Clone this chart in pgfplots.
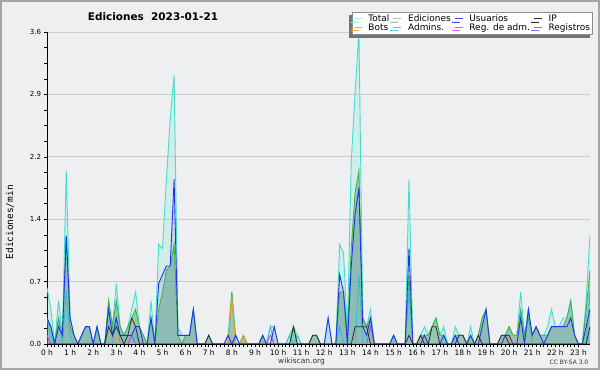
\documentclass[border=0pt]{standalone}
\usepackage{fontspec}
\setmainfont{DejaVu Sans}
\newfontfamily\monofont{DejaVu Sans Mono}
\usepackage{pgfplots}
\usepackage{pgfplotstable}
\pgfplotsset{compat=1.18}
\usetikzlibrary{shadows}

\definecolor{bg}{RGB}{238,239,240}
\definecolor{frame}{RGB}{165,165,165}
\definecolor{cTotal}{RGB}{64,224,208}
\definecolor{cEd}{RGB}{60,175,60}
\definecolor{cEdFill}{RGB}{70,150,105}
\definecolor{cUs}{RGB}{35,50,235}
\definecolor{cIP}{RGB}{45,45,45}
\definecolor{cBot}{RGB}{255,150,30}
\definecolor{cAdm}{RGB}{40,190,225}
\definecolor{cReg}{RGB}{200,60,220}
\definecolor{cLog}{RGB}{120,120,235}

\pgfplotstableread{
i T E U IP B A R
0 0.65 0.3 0.3 0 0 0.3 0.1
1 0.4 0.2 0.2 0 0 0.1 0
2 0 0 0 0 0 0 0
3 0.5 0.3 0.2 0 0 0.3 0
4 0.1 0.1 0.1 0 0 0 0
5 2.0 1.25 1.25 0 0 0.6 0
6 0.3 0.2 0.3 0 0 0.1 0
7 0.1 0.1 0.1 0 0 0 0
8 0 0 0 0 0 0 0
9 0.1 0.1 0.1 0 0 0 0
10 0.2 0.2 0.2 0 0 0 0
11 0.2 0.2 0.2 0 0 0 0
12 0 0 0 0 0 0 0
13 0.2 0.2 0.2 0 0 0 0
14 0 0 0 0 0 0 0
15 0 0 0 0 0 0 0
16 0.5 0.5 0.4 0.2 0 0 0
17 0.2 0.2 0.1 0.1 0 0 0
18 0.7 0.5 0.3 0.2 0.1 0.3 0
19 0.2 0.2 0.1 0.1 0 0 0
20 0.1 0.1 0.1 0 0 0 0
21 0.2 0.2 0.1 0.1 0 0 0
22 0.4 0.3 0.1 0.3 0 0 0.1
23 0.6 0.4 0.2 0.2 0 0.1 0
24 0.2 0.2 0.2 0 0 0 0
25 0.1 0.1 0 0 0 0 0
26 0 0 0 0 0 0 0
27 0.5 0.3 0.3 0 0 0 0
28 0 0 0 0 0 0 0
29 1.15 0.4 0.7 0 0 0 0
30 1.1 0.6 0.8 0 0 0 0
31 1.9 0.85 0.9 0 0 0 0
32 2.6 0.9 0.9 0 0 0 0
33 3.1 1.15 1.9 0 0 0 0
34 0.2 0.1 0.1 0 0 0 0
35 0.1 0 0.1 0 0 0 0
36 0.1 0.1 0.1 0 0 0 0
37 0.1 0.1 0.1 0 0 0 0
38 0.4 0.4 0.4 0 0 0 0
39 0 0 0 0 0 0 0
40 0 0 0 0 0 0 0
41 0 0 0 0 0 0 0
42 0.1 0.1 0 0.1 0 0 0
43 0 0 0 0 0 0 0
44 0 0 0 0 0 0 0
45 0 0 0 0 0 0 0
46 0 0 0 0 0 0 0
47 0.1 0 0.1 0 0 0 0
48 0.6 0.6 0 0 0.55 0 0
49 0.1 0 0.1 0 0 0 0
50 0 0 0 0 0 0 0
51 0.1 0.1 0 0 0.1 0 0
52 0 0 0 0 0 0 0
53 0 0 0 0 0 0 0
54 0 0 0 0 0 0 0
55 0 0 0 0 0 0 0
56 0.1 0.1 0.1 0 0 0 0
57 0 0 0 0 0 0 0
58 0.2 0 0 0 0 0.2 0.1
59 0.2 0 0.2 0 0 0 0
60 0 0 0 0 0 0 0
61 0 0 0 0 0 0 0
62 0 0 0 0 0 0 0
63 0.1 0 0 0 0 0.1 0
64 0.2 0.2 0 0.2 0 0 0
65 0.1 0 0 0 0 0.1 0
66 0 0 0 0 0 0 0
67 0 0 0 0 0 0 0
68 0 0 0 0 0 0 0
69 0.1 0.1 0 0.1 0 0 0
70 0.1 0.1 0 0.1 0 0 0
71 0 0 0 0 0 0 0
72 0 0 0 0 0 0 0
73 0.3 0 0.3 0 0 0 0
74 0 0 0 0 0 0 0
75 0 0 0 0 0 0 0
76 1.15 0.6 0.8 0 0 0.2 0
77 1.05 0.6 0.6 0 0 0 0
78 0.15 0.1 0 0 0 0 0
79 2.1 1.1 0.9 0 0 0 0
80 2.9 1.75 1.5 0.2 0 0 0
81 3.6 2.0 1.8 0.2 0 0.8 0
82 0.3 0.3 0.2 0.2 0 0 0
83 0.2 0.2 0.1 0.2 0 0 0
84 0.4 0.3 0.3 0 0 0 0.2
85 0 0 0 0 0 0 0
86 0 0 0 0 0 0 0
87 0 0 0 0 0 0 0
88 0 0 0 0 0 0 0
89 0 0 0 0 0 0 0
90 0.1 0.1 0.1 0 0 0 0
91 0 0 0 0 0 0 0
92 0 0 0 0 0 0 0
93 0 0 0 0 0 0 0
94 1.9 0.8 1.1 0.1 0 0.6 0
95 0 0 0 0 0 0 0
96 0 0 0 0 0 0 0
97 0.1 0.1 0 0.1 0 0 0
98 0.2 0.1 0.1 0 0 0 0
99 0.1 0.1 0 0 0 0 0
100 0.2 0.2 0 0.2 0 0 0
101 0.3 0.3 0 0.2 0 0 0
102 0.1 0.1 0 0 0 0 0
103 0.2 0.1 0.1 0 0 0 0
104 0 0 0 0 0 0 0
105 0 0 0 0 0 0 0
106 0.2 0.1 0.1 0 0 0 0
107 0.1 0.1 0 0.1 0 0 0
108 0.1 0.1 0 0.1 0 0 0
109 0 0 0 0 0 0 0
110 0.2 0.1 0.1 0 0 0 0
111 0 0 0 0 0 0 0
112 0.1 0.1 0 0.1 0 0 0
113 0.3 0.3 0.2 0 0 0 0
114 0.4 0.4 0.4 0 0 0 0
115 0 0 0 0 0 0 0
116 0 0 0 0 0 0 0
117 0 0 0 0 0 0 0
118 0.1 0.1 0 0.1 0 0 0
119 0.1 0.1 0.1 0.1 0 0 0
120 0.2 0.2 0.1 0 0.1 0 0
121 0.1 0.1 0 0 0.1 0 0
122 0.1 0.1 0 0 0 0 0
123 0.6 0.4 0.3 0 0 0 0
124 0.1 0.1 0 0 0 0 0
125 0.4 0.3 0.4 0 0 0.4 0
126 0.1 0.1 0.1 0 0 0 0
127 0.2 0.2 0.2 0 0 0 0
128 0.1 0.1 0.1 0 0 0 0
129 0.1 0.1 0 0 0 0 0
130 0.2 0.1 0.1 0 0 0 0
131 0.4 0.2 0.2 0 0 0 0
132 0.2 0.2 0.2 0 0 0 0
133 0.2 0.2 0.2 0 0 0 0
134 0.3 0.2 0.2 0 0 0 0
135 0.3 0.3 0.2 0 0 0 0
136 0.5 0.5 0.3 0 0 0 0
137 0.1 0.1 0.1 0 0 0 0
138 0 0 0 0 0 0 0
139 0 0 0 0 0 0 0
140 0.5 0.4 0.2 0 0 0 0
141 1.25 0.85 0.4 0.2 0 0.6 0
}\data

\begin{document}
\begin{tikzpicture}
\useasboundingbox (0,0) rectangle (600bp,370bp);
\fill[bg] (0,0) rectangle (600bp,370bp);
\draw[frame, line width=2bp] (1bp,1bp) rectangle (599bp,369bp);
\begin{axis}[
  at={(47bp,26bp)}, anchor=south west,
  scale only axis, width=543bp, height=312bp,
  xmin=0, xmax=141, ymin=0, ymax=3.6,
  axis x line=bottom, axis y line=left,
  axis line style={-, black, line width=0.8bp},
  xtick={0,6,...,138},
  xticklabels={0 h,1 h,2 h,3 h,4 h,5 h,6 h,7 h,8 h,9 h,10 h,11 h,12 h,13 h,14 h,15 h,16 h,17 h,18 h,19 h,20 h,21 h,22 h,23 h},
  minor x tick num=5,
  ytick={0,0.72,1.44,2.16,2.88,3.6},
  yticklabels={0.0,0.7,1.4,2.2,2.9,3.6},
  minor y tick num=3,
  tick align=outside,
  major tick length=3.5bp, minor tick length=3bp,
  tick style={black, line width=0.6bp},
  ymajorgrids, grid style={color=black!20, line width=0.7bp},
  /pgf/number format/assume math mode=true,
  xticklabel style={font=\fontsize{7.5}{8}\selectfont, yshift=1.5bp},
  yticklabel style={font=\fontsize{7}{8}\selectfont, xshift=1bp},
  ylabel={\monofont Ediciones/min},
  ylabel style={at={(axis description cs:-0.068,0.39)}, anchor=center, font=\fontsize{9.5}{10}\selectfont},
  legend columns=4,
  legend cell align=left,
  legend image code/.code={\draw[#1, line width=0.8bp] (0bp,0bp) -- (8bp,0bp);},
  legend style={at={(1.0055,1.065)}, anchor=north east, fill=white, draw=black!45, line width=0.6bp,
    font=\fontsize{9}{10}\selectfont, inner sep=1.5bp, row sep=-1.8bp,
    /tikz/every even column/.append style={column sep=2.5bp},
    /tikz/every odd column/.append style={column sep=5bp},
    nodes={inner sep=1.2bp},
    drop shadow={shadow xshift=-3bp, shadow yshift=-3bp, fill=black!55, opacity=1}},
]
% fills
\addplot[draw=none, fill=cTotal, fill opacity=0.16, forget plot] table[x=i,y=T]{\data} \closedcycle;
\addplot[draw=none, fill=cUs, fill opacity=0.10, forget plot] table[x=i,y=U]{\data} \closedcycle;
\addplot[draw=none, fill=cEdFill, fill opacity=0.42, forget plot] table[x=i,y=E]{\data} \closedcycle;
% lines
\addplot[cTotal, line width=0.9bp, forget plot] table[x=i,y=T]{\data};
\addplot[cAdm, line width=0.8bp, forget plot] table[x=i,y=A]{\data};
\addplot[cEd, line width=0.8bp, forget plot] table[x=i,y=E]{\data};
\addplot[cBot, line width=0.8bp, forget plot] table[x=i,y=B]{\data};
\addplot[cReg, line width=0.8bp, forget plot] table[x=i,y=R]{\data};
\addplot[cUs, line width=0.9bp, forget plot] table[x=i,y=U]{\data};
\addplot[cIP, line width=0.8bp, forget plot] table[x=i,y=IP]{\data};
% legend
\addlegendimage{cTotal!45}\addlegendentry{Total}
\addlegendimage{cEd!55}\addlegendentry{Ediciones}
\addlegendimage{cUs!85}\addlegendentry{Usuarios}
\addlegendimage{cIP}\addlegendentry{IP}
\addlegendimage{cBot!85}\addlegendentry{Bots}
\addlegendimage{cAdm!80}\addlegendentry{Admins.}
\addlegendimage{cReg!80}\addlegendentry{Reg. de adm.}
\addlegendimage{cLog}\addlegendentry{Registros}
\end{axis}
\node[font=\bfseries\fontsize{10.5}{12}\selectfont] at (153bp,353bp) {Ediciones\ \ 2023-01-21};
\node[font=\fontsize{7.5}{8}\selectfont, text=black!80] at (301.5bp,9bp) {wikiscan.org};
\node[font=\fontsize{6}{7}\selectfont, text=black!80] at (569bp,8bp) {CC BY-SA 3.0};
\end{tikzpicture}
\end{document}
